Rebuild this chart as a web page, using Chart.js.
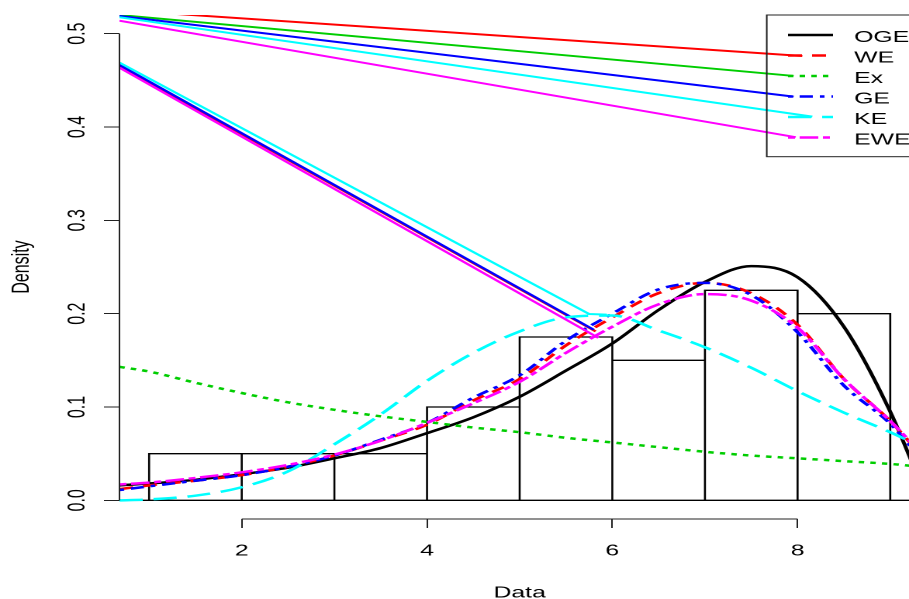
<!DOCTYPE html>
<html>
<head>
<meta charset="utf-8">
<script src="https://cdn.jsdelivr.net/npm/chart.js@4.4.1/dist/chart.umd.min.js"></script>
<style>
  html, body { margin: 0; padding: 0; background: #fff; overflow: hidden; }
  #wrap { width: 909px; height: 599px; overflow: hidden; }
  /* the reference is an R plot stretched sideways, so stretch the canvas the same way */
  #c { transform: scaleX(1.5512); transform-origin: 0 0; }
</style>
</head>
<body>
<div id="wrap"><canvas id="c" width="593" height="599"></canvas></div>
<script>
// histogram
const binEdges = [1, 2, 3, 4, 5, 6, 7, 8, 9];
const binHeights = [0.05, 0.05, 0.05, 0.1, 0.175, 0.15, 0.225, 0.2];

// fitted densities
const xs  = [0.68, 1, 1.5, 2, 2.5, 3, 3.5, 4, 4.5, 5, 5.5, 6, 6.5, 7, 7.5, 8, 8.5, 9, 9.32];
const oge = [0.016, 0.018, 0.022, 0.028, 0.035, 0.045, 0.056, 0.072, 0.089, 0.111, 0.139, 0.168, 0.204, 0.234, 0.251, 0.239, 0.186, 0.095, 0.02];
const we  = [0.012, 0.016, 0.021, 0.027, 0.036, 0.048, 0.064, 0.081, 0.107, 0.13, 0.166, 0.196, 0.222, 0.233, 0.222, 0.188, 0.13, 0.085, 0.05];
const ex  = [0.143, 0.138, 0.126, 0.115, 0.105, 0.097, 0.09, 0.084, 0.078, 0.073, 0.067, 0.062, 0.057, 0.052, 0.048, 0.045, 0.042, 0.039, 0.036];
const ge  = [0.011, 0.015, 0.021, 0.027, 0.036, 0.048, 0.065, 0.083, 0.11, 0.134, 0.171, 0.2, 0.226, 0.233, 0.22, 0.18, 0.123, 0.082, 0.046];
const ke  = [0.0, 0.001, 0.005, 0.014, 0.031, 0.06, 0.092, 0.128, 0.158, 0.181, 0.196, 0.198, 0.182, 0.164, 0.142, 0.117, 0.094, 0.073, 0.058];
const ewe = [0.017, 0.019, 0.024, 0.03, 0.038, 0.049, 0.064, 0.083, 0.104, 0.127, 0.158, 0.186, 0.21, 0.221, 0.214, 0.185, 0.13, 0.085, 0.052];

// stray straight segments that are in the original picture
const weStray   = [[0.68, 0.5252, 8.051, 0.4761], [0.68, 0.4655, 5.82, 0.181]];
const exStray   = [[0.68, 0.52, 7.957, 0.4547]];
const geStray   = [[0.68, 0.519, 7.957, 0.4325], [0.68, 0.4665, 5.80, 0.1828]];
const keStray   = [[0.68, 0.5176, 8.159, 0.4111], [0.68, 0.469, 5.75, 0.1996, 5.94, 0.199]];
const eweStray  = [[0.68, 0.5139, 7.979, 0.3891], [0.68, 0.4636, 5.85, 0.174]];

const names  = ['OGE', 'WE', 'Ex', 'GE', 'KE', 'EWE'];
const colors = ['#000000', '#ff0000', '#00cd00', '#0000ff', '#00ffff', '#ff00ff'];
const dashes = [[], [9, 6.5], [3.5, 4], [3, 4.5, 8.5, 4.5], [15, 7], [4.5, 3, 12, 3]];
const curves = [oge, we, ex, ge, ke, ewe];
const strays = [[], weStray, exStray, geStray, keStray, eweStray];

const xTicks = [2, 4, 6, 8];
const yTicks = [0, 0.1, 0.2, 0.3, 0.4, 0.5];

const FONT = '"Liberation Sans", Arial, sans-serif';
Chart.defaults.font.family = FONT;
Chart.defaults.color = '#000';

function pairs(flat) {
  const out = [];
  for (let i = 0; i < flat.length; i += 2) out.push({ x: flat[i], y: flat[i + 1] });
  return out;
}

const histPts = [];
binHeights.forEach((h, i) => {
  histPts.push({ x: binEdges[i], y: 0 }, { x: binEdges[i], y: h },
               { x: binEdges[i + 1], y: h }, { x: binEdges[i + 1], y: 0 });
});

const datasets = [];
datasets.push({ data: [{ x: xs[0], y: 0 }, { x: xs[xs.length - 1], y: 0 }], borderColor: '#000', borderWidth: 1.3 });
datasets.push({ data: histPts, borderColor: '#000', borderWidth: 1.3 });
curves.forEach((c, k) => {
  datasets.push({
    data: xs.map((x, i) => ({ x, y: c[i] })),
    borderColor: colors[k], borderWidth: 2.5, borderDash: dashes[k],
    cubicInterpolationMode: 'monotone'
  });
  strays[k].forEach(s => {
    datasets.push({ data: pairs(s), borderColor: colors[k], borderWidth: 2 });
  });
});
// later datasets drawn on top, like R
datasets.forEach((d, i) => {
  d.order = datasets.length - i;
  d.pointRadius = 0;
  d.fill = false;
  d.showLine = true;
});

const axisLines = {
  id: 'axisLines',
  afterDraw(chart) {
    const { ctx, chartArea, scales: { x, y } } = chart;
    ctx.save();
    ctx.strokeStyle = '#222';
    ctx.lineWidth = 1;
    ctx.beginPath();
    ctx.moveTo(chartArea.left, y.getPixelForValue(yTicks[0]));
    ctx.lineTo(chartArea.left, y.getPixelForValue(yTicks[yTicks.length - 1]));
    ctx.moveTo(x.getPixelForValue(xTicks[0]), chartArea.bottom);
    ctx.lineTo(x.getPixelForValue(xTicks[xTicks.length - 1]), chartArea.bottom);
    ctx.stroke();
    ctx.restore();
  }
};

const boxLegend = {
  id: 'boxLegend',
  afterDraw(chart) {
    const ctx = chart.ctx;
    ctx.save();
    ctx.strokeStyle = '#222';
    ctx.lineWidth = 1;
    ctx.strokeRect(494.3, 15, 120, 141.7);
    ctx.font = '16px ' + FONT;
    ctx.textBaseline = 'middle';
    ctx.fillStyle = '#000';
    names.forEach((n, i) => {
      const yy = 35 + i * 20.5;
      ctx.strokeStyle = colors[i];
      ctx.lineWidth = 2.5;
      ctx.setLineDash(dashes[i]);
      ctx.beginPath();
      ctx.moveTo(508, yy);
      ctx.lineTo(537, yy);
      ctx.stroke();
      ctx.setLineDash([]);
      ctx.fillText(n, 550.6, yy + 2.5);
    });
    ctx.restore();
  }
};

new Chart(document.getElementById('c'), {
  type: 'scatter',
  data: { datasets },
  plugins: [axisLines, boxLegend],
  options: {
    responsive: false,
    devicePixelRatio: 2,
    animation: false,
    layout: { padding: { top: 15, right: 0, left: 0, bottom: 0 } },
    plugins: { legend: { display: false }, tooltip: { enabled: false } },
    scales: {
      x: {
        type: 'linear', min: 0.68, max: 9.32,
        afterFit: s => { s.height = 80; },
        afterBuildTicks: s => { s.ticks = xTicks.map(v => ({ value: v })); },
        grid: { drawOnChartArea: false, drawTicks: true, tickLength: 9, color: '#222' },
        border: { display: false },
        ticks: { font: { size: 16, lineHeight: 1 }, padding: 15, maxRotation: 0, callback: v => String(v) },
        title: { display: true, text: 'Data', font: { size: 16, lineHeight: 0.75 }, padding: 0 }
      },
      y: {
        type: 'linear', min: -0.02, max: 0.52,
        afterFit: s => { s.width = 77; },
        afterBuildTicks: s => { s.ticks = yTicks.map(v => ({ value: v })); },
        grid: { drawOnChartArea: false, drawTicks: true, tickLength: 10, color: '#222' },
        border: { display: false },
        ticks: { font: { size: 16, lineHeight: 1 }, padding: 6, minRotation: 90, maxRotation: 90,
                 crossAlign: 'center', callback: v => v.toFixed(1) },
        title: { display: true, text: 'Density', font: { size: 16, lineHeight: 1 }, padding: { top: 6, bottom: 0 } }
      }
    }
  }
});
</script>
</body>
</html>
